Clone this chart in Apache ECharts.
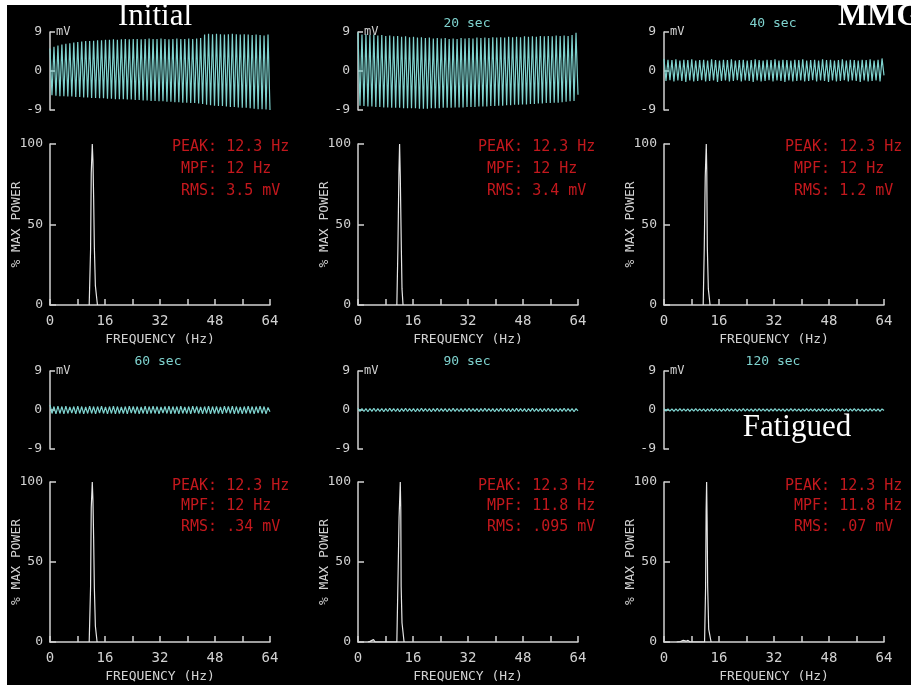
<!DOCTYPE html>
<html>
<head>
<meta charset="utf-8">
<title>EMG fatigue spectra</title>
<script src="https://cdn.jsdelivr.net/npm/echarts@6/dist/echarts.min.js"></script>
<style>
html, body { margin: 0; padding: 0; background: #fff; }
#main { width: 911px; height: 686px; }
</style>
</head>
<body>
<div id="main"></div>
<script>
// panel labels and readouts
var panelNames = ['Initial', '20 sec', '40 sec', '60 sec', '90 sec', '120 sec'];
var peakHz = ['12.3', '12.3', '12.3', '12.3', '12.3', '12.3'];
var mpfHz = ['12', '12', '12', '12', '11.8', '11.8'];
var rmsMv = ['3.5', '3.4', '1.2', '.34', '.095', '.07'];
var emgTicks = [-9, 0, 9];
var powerTicks = [0, 50, 100];
var freqLabels = [0, 16, 32, 48, 64];

// EMG traces: successive peaks and troughs (mV)
var peaks0 = [5.2,5.6,5.9,6.1,6.3,6.4,6.6,6.7,6.8,6.9,6.9,7.0,7.1,7.1,7.2,7.2,7.3,7.2,7.3,7.4,7.3,7.4,7.4,7.3,7.4,7.5,7.4,7.4,7.5,7.4,7.3,7.4,7.5,7.4,7.4,7.5,7.4,7.5,7.6,8.4,8.6,8.5,8.6,8.5,8.4,8.5,8.6,8.5,8.4,8.5,8.4,8.3,8.4,8.3,8.2,8.4];
var troughs0 = [-5.6,-5.7,-5.8,-5.8,-5.9,-5.9,-6.0,-6.0,-6.1,-6.1,-6.2,-6.2,-6.3,-6.3,-6.4,-6.4,-6.5,-6.5,-6.5,-6.6,-6.6,-6.7,-6.7,-6.8,-6.8,-6.9,-6.9,-7.0,-7.0,-7.1,-7.1,-7.2,-7.2,-7.3,-7.3,-7.4,-7.4,-7.5,-7.6,-7.8,-7.9,-8.0,-8.1,-8.1,-8.2,-8.3,-8.3,-8.4,-8.5,-8.5,-8.6,-8.7,-8.8,-8.8,-8.9,-9.0];
var peaks1 = [8.9,8.4,8.5,8.3,8.4,8.2,8.3,8.1,8.2,8.0,8.1,7.9,8.0,7.8,7.9,7.7,7.8,7.6,7.7,7.5,7.6,7.5,7.6,7.4,7.5,7.4,7.6,7.5,7.6,7.5,7.7,7.6,7.7,7.6,7.8,7.7,7.8,7.7,7.9,7.8,7.9,7.8,8.0,7.9,8.0,7.9,8.1,8.0,8.1,8.0,8.2,8.1,8.2,8.1,8.3,8.8];
var troughs1 = [-8.0,-8.1,-8.2,-8.2,-8.3,-8.3,-8.4,-8.4,-8.5,-8.5,-8.5,-8.6,-8.6,-8.6,-8.6,-8.7,-8.7,-8.7,-8.6,-8.6,-8.6,-8.5,-8.5,-8.5,-8.4,-8.4,-8.4,-8.3,-8.3,-8.3,-8.2,-8.2,-8.2,-8.1,-8.1,-8.0,-8.0,-7.9,-7.9,-7.8,-7.8,-7.7,-7.7,-7.6,-7.6,-7.5,-7.5,-7.4,-7.4,-7.3,-7.3,-7.2,-7.1,-7.0,-6.9,-5.5];
var peaks2 = [2.8,2.6,2.5,2.7,2.4,2.6,2.5,2.7,2.4,2.5,2.6,2.4,2.7,2.5,2.4,2.6,2.5,2.7,2.4,2.5,2.6,2.4,2.5,2.7,2.5,2.4,2.6,2.5,2.7,2.4,2.6,2.5,2.4,2.6,2.5,2.7,2.4,2.5,2.6,2.4,2.7,2.5,2.6,2.4,2.5,2.7,2.4,2.6,2.5,2.4,2.6,2.5,2.7,2.4,2.6,2.9];
var troughs2 = [-2.3,-2.1,-2.4,-2.2,-2.3,-2.5,-2.2,-2.4,-2.3,-2.1,-2.4,-2.3,-2.2,-2.5,-2.3,-2.2,-2.4,-2.3,-2.1,-2.4,-2.2,-2.3,-2.5,-2.2,-2.4,-2.3,-2.1,-2.4,-2.2,-2.3,-2.5,-2.2,-2.4,-2.3,-2.2,-2.4,-2.3,-2.1,-2.4,-2.2,-2.3,-2.5,-2.2,-2.4,-2.3,-2.1,-2.4,-2.2,-2.3,-2.5,-2.2,-2.4,-2.3,-2.2,-2.4,-1.0];
var peaks3 = [1.2,0.8,0.9,0.8,0.9,0.7,0.8,0.9,0.8,0.7,0.9,0.8,0.8,0.9,0.7,0.8,0.9,0.8,0.7,0.8,0.9,0.8,0.8,0.7,0.9,0.8,0.9,0.8,0.7,0.8,0.9,0.8,0.8,0.9,0.7,0.8,0.9,0.8,0.7,0.8,0.9,0.8,0.8,0.7,0.9,0.8,0.9,0.8,0.7,0.8,0.9,0.8,0.8,0.9,0.8,0.6];
var troughs3 = [-0.8,-0.9,-0.8,-0.9,-0.8,-0.7,-0.9,-0.8,-0.9,-0.8,-0.8,-0.9,-0.7,-0.8,-0.9,-0.8,-0.9,-0.8,-0.8,-0.9,-0.7,-0.8,-0.9,-0.8,-0.9,-0.8,-0.8,-0.9,-0.7,-0.8,-0.9,-0.8,-0.9,-0.8,-0.8,-0.9,-0.7,-0.8,-0.9,-0.8,-0.9,-0.8,-0.8,-0.9,-0.7,-0.8,-0.9,-0.8,-0.9,-0.8,-0.8,-0.9,-0.7,-0.8,-0.9,-0.4];
var peaks4 = [0.4,0.35,0.3,0.35,0.4,0.3,0.35,0.3,0.4,0.35,0.3,0.35,0.4,0.3,0.35,0.3,0.4,0.35,0.3,0.35,0.4,0.3,0.35,0.3,0.4,0.35,0.3,0.35,0.4,0.3,0.35,0.3,0.4,0.35,0.3,0.35,0.4,0.3,0.35,0.3,0.4,0.35,0.3,0.35,0.4,0.3,0.35,0.3,0.4,0.35,0.3,0.35,0.4,0.3,0.35,0.3];
var troughs4 = [-0.3,-0.35,-0.4,-0.3,-0.35,-0.3,-0.4,-0.35,-0.3,-0.35,-0.4,-0.3,-0.35,-0.3,-0.4,-0.35,-0.3,-0.35,-0.4,-0.3,-0.35,-0.3,-0.4,-0.35,-0.3,-0.35,-0.4,-0.3,-0.35,-0.3,-0.4,-0.35,-0.3,-0.35,-0.4,-0.3,-0.35,-0.3,-0.4,-0.35,-0.3,-0.35,-0.4,-0.3,-0.35,-0.3,-0.4,-0.35,-0.3,-0.35,-0.4,-0.3,-0.35,-0.3,-0.4,-0.2];
var peaks5 = [0.3,0.27,0.24,0.27,0.3,0.24,0.27,0.24,0.3,0.27,0.24,0.27,0.3,0.24,0.27,0.24,0.3,0.27,0.24,0.27,0.3,0.24,0.27,0.24,0.3,0.27,0.24,0.27,0.3,0.24,0.27,0.24,0.3,0.27,0.24,0.27,0.3,0.24,0.27,0.24,0.3,0.27,0.24,0.27,0.3,0.24,0.27,0.24,0.3,0.27,0.24,0.27,0.3,0.24,0.27,0.24];
var troughs5 = [-0.24,-0.27,-0.3,-0.24,-0.27,-0.24,-0.3,-0.27,-0.24,-0.27,-0.3,-0.24,-0.27,-0.24,-0.3,-0.27,-0.24,-0.27,-0.3,-0.24,-0.27,-0.24,-0.3,-0.27,-0.24,-0.27,-0.3,-0.24,-0.27,-0.24,-0.3,-0.27,-0.24,-0.27,-0.3,-0.24,-0.27,-0.24,-0.3,-0.27,-0.24,-0.27,-0.3,-0.24,-0.27,-0.24,-0.3,-0.27,-0.24,-0.27,-0.3,-0.24,-0.27,-0.24,-0.3,-0.12];
var emgPeaks = [peaks0, peaks1, peaks2, peaks3, peaks4, peaks5];
var emgTroughs = [troughs0, troughs1, troughs2, troughs3, troughs4, troughs5];

// power spectra: [frequency Hz, % max power]
var spec0 = [[11.4,0],[11.8,34],[12.0,82],[12.3,100],[12.5,89],[12.7,66],[12.9,36],[13.2,12],[13.8,0]];
var spec1 = [[11.3,0],[11.6,34],[11.9,82],[12.1,100],[12.3,80],[12.6,36],[12.8,10],[13.1,0]];
var spec2 = [[11.4,0],[11.7,34],[12.0,80],[12.3,100],[12.45,82],[12.6,36],[12.9,10],[13.4,0]];
var spec3 = [[11.4,0],[11.8,34],[12.0,84],[12.3,100],[12.5,88],[12.7,64],[12.9,34],[13.2,10],[13.7,0]];
var spec4 = [[2.9,0],[3.2,1.2],[3.5,0.4],[4.0,1.0],[4.5,1.5],[5.0,0],[11.3,0],[11.6,35],[11.95,78],[12.3,100],[12.45,82],[12.55,35],[12.8,12],[13.4,0]];
var spec5 = [[3.7,0],[4.2,0.8],[4.8,0.3],[5.6,1.0],[6.4,0.5],[7.0,1.0],[7.6,0],[11.8,0],[12.1,34],[12.25,82],[12.4,100],[12.55,75],[12.7,35],[13.0,8],[13.7,0]];
var spectra = [spec0, spec1, spec2, spec3, spec4, spec5];

var AX = '#d2d2d2', TEAL = '#7fd3cf', RED = '#c3181d';
var MONO = '"DejaVu Sans Mono", monospace';
var SERIF = '"Liberation Serif", "DejaVu Serif", serif';

var colX = [50, 358, 664];
var emgTop = [32, 371];
var specTop = [144, 482];
var specH = [161, 160];
var titleX = [158, 467, 773];
var titleY = [24, 362];
var statX = [172, 478, 785];
var statY = [147, 486];
var statGap = [22, 20.5];

function interleave(p, t) {
    var out = [];
    for (var k = 0; k < Math.min(p.length, t.length); k++) {
        out.push(p[k]);
        out.push(t[k]);
    }
    return out;
}

var grids = [], xAxes = [], yAxes = [], series = [], graphics = [];

panelNames.forEach(function (name, i) {
    var c = i % 3, r = Math.floor(i / 3);
    var emg = interleave(emgPeaks[i], emgTroughs[i]);
    var g = 2 * i;

    // raw EMG trace
    grids.push({ left: colX[c], top: emgTop[r], width: 220, height: 78 });
    xAxes.push({
        gridIndex: g, type: 'category', show: false, boundaryGap: false,
        data: emg.map(function (v, k) { return k; })
    });
    yAxes.push({
        gridIndex: g, type: 'value', min: -9, max: 9, interval: 9,
        axisLine: { show: true, lineStyle: { color: AX, width: 1.5 } },
        axisTick: { show: true, inside: true, length: 5, lineStyle: { color: AX, width: 1.5 } },
        axisLabel: { color: AX, fontFamily: MONO, fontSize: 13, margin: 8,
            formatter: function (v) { return emgTicks.indexOf(v) >= 0 ? String(v) : ''; } },
        splitLine: { show: false },
        name: 'mV', nameLocation: 'end', nameGap: 0,
        nameTextStyle: { color: AX, fontFamily: MONO, fontSize: 12, align: 'left', verticalAlign: 'middle', padding: [0, 0, 0, 6] }
    });
    series.push({
        type: 'line', xAxisIndex: g, yAxisIndex: g, data: emg,
        showSymbol: false, silent: true, lineStyle: { color: TEAL, width: 1.2 }
    });

    // power spectrum
    grids.push({ left: colX[c], top: specTop[r], width: 220, height: specH[r] });
    xAxes.push({
        gridIndex: g + 1, type: 'value', min: 0, max: 64, interval: 8,
        axisLine: { show: true, onZero: false, lineStyle: { color: AX, width: 1.5 } },
        axisTick: { show: true, inside: true, length: 6, lineStyle: { color: AX, width: 1.5 } },
        axisLabel: { color: AX, fontFamily: MONO, fontSize: 14, margin: 9,
            formatter: function (v) { return freqLabels.indexOf(v) >= 0 ? String(v) : ''; } },
        splitLine: { show: false },
        name: 'FREQUENCY (Hz)', nameLocation: 'middle', nameGap: 28,
        nameTextStyle: { color: AX, fontFamily: MONO, fontSize: 13 }
    });
    yAxes.push({
        gridIndex: g + 1, type: 'value', min: 0, max: 100, interval: 50,
        axisLine: { show: true, lineStyle: { color: AX, width: 1.5 } },
        axisTick: { show: true, inside: true, length: 6, lineStyle: { color: AX, width: 1.5 } },
        axisLabel: { color: AX, fontFamily: MONO, fontSize: 13, margin: 7,
            formatter: function (v) { return powerTicks.indexOf(v) >= 0 ? String(v) : ''; } },
        splitLine: { show: false }
    });
    series.push({
        type: 'line', xAxisIndex: g + 1, yAxisIndex: g + 1, data: spectra[i],
        showSymbol: false, silent: true, lineStyle: { color: '#e6e6e6', width: 1.2 }
    });

    // y-axis title of the spectrum, reading upwards
    graphics.push({ type: 'text', x: colX[c] - 33, y: specTop[r] + specH[r] / 2, rotation: Math.PI / 2,
        style: { text: '% MAX POWER', fill: AX, font: '13px ' + MONO, align: 'center', verticalAlign: 'middle' } });

    // time label above each trace
    if (i > 0) {
        graphics.push({ type: 'text', x: titleX[c], y: titleY[r],
            style: { text: name, fill: TEAL, font: '13px ' + MONO, align: 'center', verticalAlign: 'middle' } });
    }

    // red readouts, colons lined up
    var lines = ['PEAK: ' + peakHz[i] + ' Hz', ' MPF: ' + mpfHz[i] + ' Hz', ' RMS: ' + rmsMv[i] + ' mV'];
    lines.forEach(function (t, k) {
        graphics.push({ type: 'text', x: statX[c], y: statY[r] + k * statGap[r],
            style: { text: t, fill: RED, font: '15px ' + MONO, align: 'left', verticalAlign: 'middle' } });
    });
});

// big annotations
graphics.push({ type: 'text', x: 155, y: 17, style: { text: 'Initial', fill: '#fff', font: '31px ' + SERIF, align: 'center', verticalAlign: 'middle' } });
graphics.push({ type: 'text', x: 838, y: 17, style: { text: 'MMG', fill: '#fff', font: 'bold 31px ' + SERIF, align: 'left', verticalAlign: 'middle' } });
graphics.push({ type: 'text', x: 797, y: 428, style: { text: 'Fatigued', fill: '#fff', font: '31px ' + SERIF, align: 'center', verticalAlign: 'middle' } });

// white page margin round the black screen
graphics.push({ type: 'rect', z: 100, shape: { x: 0, y: 0, width: 911, height: 5 }, style: { fill: '#fff' } });
graphics.push({ type: 'rect', z: 100, shape: { x: 0, y: 0, width: 7, height: 686 }, style: { fill: '#fff' } });
graphics.push({ type: 'rect', z: 100, shape: { x: 0, y: 685, width: 911, height: 1 }, style: { fill: '#fff' } });

var chart = echarts.init(document.getElementById('main'));
chart.setOption({
    backgroundColor: '#000',
    animation: false,
    grid: grids,
    xAxis: xAxes,
    yAxis: yAxes,
    series: series,
    graphic: graphics
});
</script>
</body>
</html>
